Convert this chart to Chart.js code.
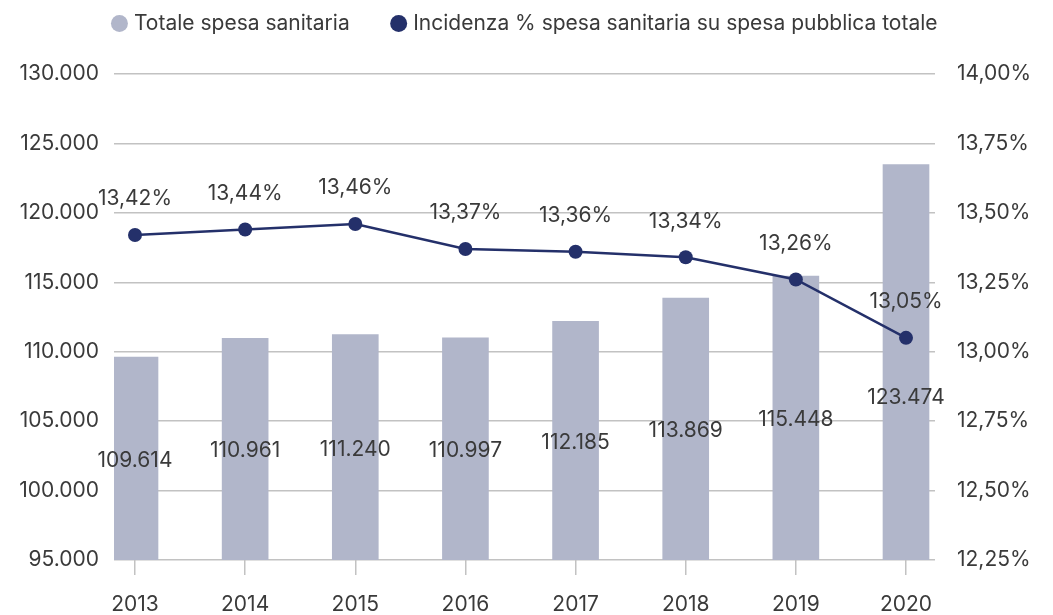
<!DOCTYPE html>
<html>
<head>
<meta charset="utf-8">
<script src="https://cdn.jsdelivr.net/npm/chart.js@4/dist/chart.umd.min.js"></script>
<style>
  html, body { margin: 0; padding: 0; background: #ffffff; }
  #wrap { width: 1053px; height: 615px; position: relative; }
</style>
</head>
<body>
<div id="wrap"><canvas id="c" width="1053" height="615"></canvas></div>
<script>
const years = [2013, 2014, 2015, 2016, 2017, 2018, 2019, 2020];
const spesaTotale = [109614, 110961, 111240, 110997, 112185, 113869, 115448, 123474];
const incidenza = [13.42, 13.44, 13.46, 13.37, 13.36, 13.34, 13.26, 13.05];
const leftTicks = { min: 95000, max: 130000, step: 5000 };
const rightTicks = { min: 12.25, max: 14.00, step: 0.25 };
const seriesNames = ['Totale spesa sanitaria', 'Incidenza % spesa sanitaria su spesa pubblica totale'];

const FONT = 'Inter, "Noto Sans", sans-serif';
const TEXT = '#3a3a3a';
const BAR = '#b1b6ca';
const LINE = '#24306a';
const GRID = '#c2c2c2';

function fmtThousands(v) {
  return String(Math.round(v)).replace(/\B(?=(\d{3})+(?!\d))/g, '.');
}
function fmtPct(v) {
  return v.toFixed(2).replace('.', ',') + '%';
}

const layoutPlugin = {
  id: 'fixLegend',
  beforeUpdate(chart) {
    const lg = chart.legend;
    if (lg && !lg._fixed) {
      lg._fixed = true;
      const origFit = lg.fit;
      lg.fit = function () {
        origFit.call(this);
        this.height = 106;
      };
    }
  }
};

const labelsPlugin = {
  id: 'valueLabels',
  afterDatasetsDraw(chart) {
    const ctx = chart.ctx;
    const area = chart.chartArea;
    const barMeta = chart.getDatasetMeta(0);
    const lineMeta = chart.getDatasetMeta(1);
    ctx.save();
    ctx.font = '21px ' + FONT;
    ctx.fillStyle = TEXT;
    ctx.textAlign = 'center';
    ctx.textBaseline = 'middle';
    barMeta.data.forEach((bar, i) => {
      const base = Math.min(bar.base, area.bottom);
      let y = (bar.y + base) / 2 + 2;
      const pt = lineMeta.data[i];
      if (pt && Math.abs(y - pt.y) < 45) y = pt.y + 60;
      ctx.fillText(fmtThousands(spesaTotale[i]), bar.x, y);
    });
    lineMeta.data.forEach((pt, i) => {
      ctx.fillText(fmtPct(incidenza[i]), pt.x, pt.y - 36);
    });
    ctx.restore();
  }
};

const step = 110.14;
new Chart(document.getElementById('c'), {
  type: 'bar',
  data: {
    datasets: [
      {
        type: 'bar',
        label: seriesNames[0],
        data: years.map((y, i) => ({ x: y, y: spesaTotale[i] })),
        backgroundColor: BAR,
        borderWidth: 0,
        barThickness: 46,
        yAxisID: 'y',
        order: 1
      },
      {
        type: 'line',
        label: seriesNames[1],
        data: years.map((y, i) => ({ x: y, y: incidenza[i] })),
        borderColor: LINE,
        backgroundColor: LINE,
        borderWidth: 2.5,
        pointRadius: 7,
        pointHoverRadius: 7,
        pointBackgroundColor: LINE,
        pointBorderWidth: 0,
        tension: 0,
        yAxisID: 'y1',
        order: 0
      }
    ]
  },
  options: {
    responsive: false,
    animation: false,
    layout: { padding: { top: -32, left: 0, right: 0, bottom: 0 } },
    plugins: {
      tooltip: { enabled: false },
      legend: {
        position: 'top',
        align: 'center',
        labels: {
          usePointStyle: true,
          pointStyle: 'circle',
          boxWidth: 8,
          boxHeight: 12,
          padding: 45,
          color: TEXT,
          font: { family: FONT, size: 21 },
          sort: (a, b) => a.datasetIndex - b.datasetIndex
        }
      }
    },
    scales: {
      x: {
        type: 'linear',
        position: 'bottom',
        min: years[0] - 21 / step,
        max: years[years.length - 1] + 29 / step,
        offset: false,
        grid: { offset: false, drawOnChartArea: false, drawTicks: true, tickLength: 15, color: GRID, lineWidth: 1.5 },
        border: { display: false },
        ticks: {
          stepSize: 1,
          includeBounds: false,
          autoSkip: false,
          maxRotation: 0,
          padding: 17,
          color: TEXT,
          font: { family: FONT, size: 21 },
          callback: (v) => Number.isInteger(v) ? String(v) : ''
        },
        afterFit(scale) { scale.height = 55; }
      },
      y: {
        type: 'linear',
        position: 'left',
        min: leftTicks.min,
        max: leftTicks.max,
        grid: { color: GRID, lineWidth: 1.5, drawTicks: false },
        border: { display: false },
        ticks: {
          stepSize: leftTicks.step,
          padding: 15,
          color: TEXT,
          font: { family: FONT, size: 21 },
          callback: (v) => fmtThousands(v)
        },
        afterFit(scale) { scale.width = 114; }
      },
      y1: {
        type: 'linear',
        position: 'right',
        min: rightTicks.min,
        max: rightTicks.max,
        grid: { drawOnChartArea: false, drawTicks: false },
        border: { display: false },
        ticks: {
          stepSize: rightTicks.step,
          padding: 22,
          color: TEXT,
          font: { family: FONT, size: 21 },
          callback: (v) => fmtPct(v)
        },
        afterFit(scale) { scale.width = 118; }
      }
    }
  },
  plugins: [layoutPlugin, labelsPlugin]
});
</script>
</body>
</html>
